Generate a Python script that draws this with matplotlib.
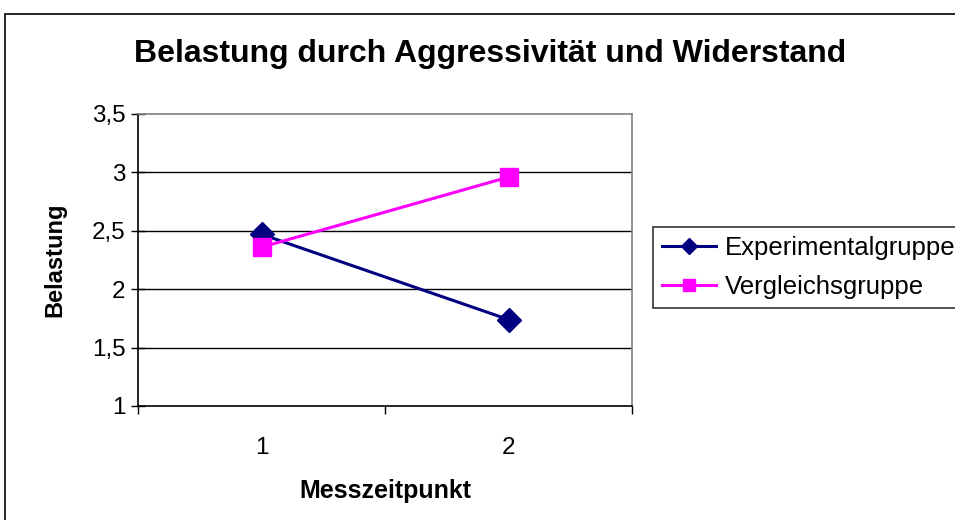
import matplotlib.pyplot as plt
import matplotlib.patches as patches

plt.rcParams['font.family'] = ['Liberation Sans', 'DejaVu Sans']

# data
zeitpunkte = [1, 2]
experimental = [2.47, 1.74]
vergleich = [2.36, 2.96]
y_ticks = [1, 1.5, 2, 2.5, 3, 3.5]
y_labels = ["1", "1,5", "2", "2,5", "3", "3,5"]

NAVY = "#000080"
MAGENTA = "#FF00FF"

fig = plt.figure(figsize=(9.55, 5.2), dpi=100)
ax = fig.add_axes([138 / 955, 1 - 406 / 520, (632 - 138) / 955, (406 - 114) / 520])

# outer chart frame (cut off at right/bottom like the original)
fig.patches.append(patches.Rectangle((5 / 955, -0.05), 1.2, 1 - 14 / 520 + 0.05,
                                     transform=fig.transFigure, fill=False,
                                     edgecolor="black", linewidth=1.2))

for y in y_ticks[1:-1]:
    ax.axhline(y, color="black", linewidth=1.0, zorder=1)

ax.plot(zeitpunkte, experimental, color=NAVY, linewidth=2.2, marker="D",
        markersize=12, label="Experimentalgruppe", zorder=3)
ax.plot(zeitpunkte, vergleich, color=MAGENTA, linewidth=2.2, marker="s",
        markersize=13, label="Vergleichsgruppe", zorder=4)

ax.set_xlim(0.5, 2.5)
ax.set_ylim(1, 3.5)
ax.set_yticks(y_ticks)
ax.set_yticklabels(y_labels, fontsize=17.5)
ax.set_xticks([0.5, 1.5, 2.5])
ax.set_xticklabels([])
ax.set_xticks(zeitpunkte, minor=True)
ax.set_xticklabels([str(z) for z in zeitpunkte], minor=True, fontsize=17.5)
ax.tick_params(axis="x", which="major", direction="out", length=6, width=1)
ax.tick_params(axis="x", which="minor", length=0, pad=22)
ax.tick_params(axis="y", direction="inout", length=10, width=1, pad=4)

ax.spines["left"].set_color("black")
ax.spines["bottom"].set_color("black")
ax.spines["top"].set_color("#808080")
ax.spines["right"].set_color("#808080")
for s in ax.spines.values():
    s.set_linewidth(1.2)

ax.set_xlabel("Messzeitpunkt", fontsize=18, fontweight="bold", labelpad=15)
ax.set_ylabel("Belastung", fontsize=17, fontweight="bold", labelpad=18)
fig.text(490 / 955, 1 - 54 / 520, "Belastung durch Aggressivität und Widerstand",
         fontsize=23, fontweight="bold", ha="center", va="center")

leg = fig.legend(loc="upper left", bbox_to_anchor=(653 / 955, 1 - 227 / 520),
                 fontsize=18.5, frameon=True, fancybox=False, handlelength=2.1,
                 handletextpad=0.35, borderpad=0.35, borderaxespad=0,
                 labelspacing=0.6, markerscale=0.7)
leg.get_frame().set_edgecolor("black")
leg.get_frame().set_linewidth(1.2)

fig.savefig("out.png", dpi=100)
